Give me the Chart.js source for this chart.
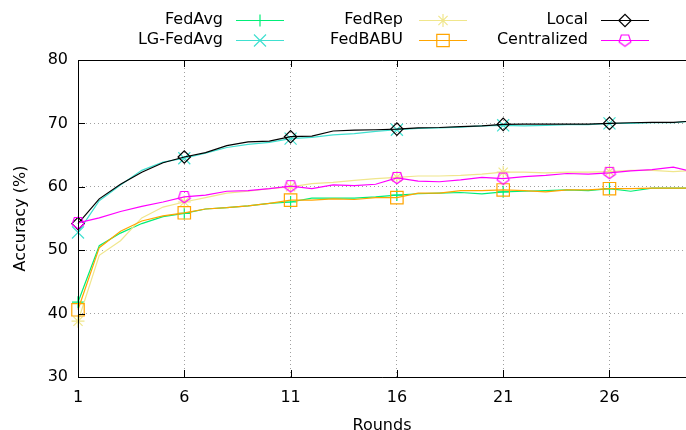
<!DOCTYPE html>
<html><head><meta charset="utf-8">
<script src="https://cdn.jsdelivr.net/npm/chart.js@4.4.1/dist/chart.umd.min.js"></script>
<style>html,body{margin:0;padding:0;background:#fff}#wrap{width:686px;height:430px;position:relative}</style>
</head><body><div id="wrap"><canvas id="c" width="686" height="430"></canvas></div>
<script>
const rounds = [1,2,3,4,5,6,7,8,9,10,11,12,13,14,15,16,17,18,19,20,21,22,23,24,25,26,27,28,29,30];
const xTicks = [1,6,11,16,21,26];
const yTicks = [30,40,50,60,70,80];
const seriesNames = ['FedAvg','LG-FedAvg','FedRep','FedBABU','Local','Centralized'];
const fedAvg      = [41.8,50.7,52.7,54.2,55.3,55.8,56.5,56.7,57.0,57.4,57.6,58.2,58.2,58.2,58.4,58.7,58.9,59.0,59.1,58.9,59.2,59.3,59.4,59.5,59.4,59.7,59.3,59.8,59.8,59.8];
const lgFedAvg    = [52.8,57.8,60.3,62.6,63.9,64.5,65.3,66.2,66.7,67.0,67.6,67.8,68.2,68.4,68.75,69.0,69.2,69.3,69.4,69.6,69.7,69.6,69.7,69.8,69.8,70.0,70.0,70.1,70.1,70.4];
const fedRep      = [38.8,49.2,51.5,55.1,56.8,57.6,58.3,59.0,59.3,59.7,60.0,60.5,60.7,61.0,61.3,61.5,61.7,61.7,61.8,62.0,62.3,62.3,62.2,62.3,62.3,62.4,62.6,62.6,62.4,62.6];
const fedBABU     = [40.6,50.4,53.0,54.6,55.4,55.9,56.5,56.7,57.0,57.4,57.9,57.9,58.1,58.0,58.3,58.3,59.0,59.0,59.4,59.4,59.5,59.4,59.2,59.5,59.5,59.7,59.7,59.8,59.8,59.8];
const local       = [54.2,58.1,60.4,62.3,63.8,64.7,65.4,66.5,67.1,67.2,67.9,68.0,68.8,68.95,69.0,69.1,69.3,69.35,69.5,69.6,69.85,69.9,69.9,69.9,69.9,70.0,70.1,70.15,70.15,70.4];
const centralized = [54.3,55.1,56.1,56.9,57.6,58.4,58.7,59.3,59.4,59.7,60.1,59.7,60.3,60.2,60.4,61.4,60.9,60.8,61.1,61.5,61.3,61.6,61.8,62.1,62.0,62.2,62.5,62.7,63.1,62.3];

const FONT = {family: 'DejaVu Sans', size: 16};

// open pentagon marker (point down)
function makePentagon(color) {
  const c = document.createElement('canvas');
  c.width = 16; c.height = 16;
  const g = c.getContext('2d');
  g.strokeStyle = color; g.lineWidth = 1.2;
  g.beginPath();
  const cx = 8, cy = 7.5, r = 6.2;
  for (let k = 0; k < 5; k++) {
    const a = Math.PI / 2 + k * 2 * Math.PI / 5;
    const px = cx + r * Math.cos(a), py = cy + r * Math.sin(a);
    if (k === 0) g.moveTo(px, py); else g.lineTo(px, py);
  }
  g.closePath(); g.stroke();
  return c;
}

const styles = [
  {color: '#00ee77', point: 'cross', radius: 6, order: 6},
  {color: '#40e0d0', point: 'crossRot', radius: 8.5, order: 5},
  {color: '#f0e68c', point: 'star', radius: 6.5, order: 4},
  {color: '#ffa500', point: 'rect', radius: 8.8, order: 3},
  {color: '#000000', point: 'rectRot', radius: 6.2, order: 2},
  {color: '#ff00ff', point: makePentagon('#ff00ff'), radius: 7, order: 1}
];
const values = [fedAvg, lgFedAvg, fedRep, fedBABU, local, centralized];

const datasets = values.map((vals, i) => ({
  label: seriesNames[i],
  data: vals.map((v, j) => ({x: rounds[j], y: v})),
  borderColor: styles[i].color,
  backgroundColor: 'rgba(0,0,0,0)',
  borderWidth: 1.2,
  pointStyle: styles[i].point,
  pointRadius: ctx => (ctx.dataIndex % 5 === 0 ? styles[i].radius : 0),
  pointBorderWidth: 1.2,
  pointBorderColor: styles[i].color,
  pointBackgroundColor: 'rgba(0,0,0,0)',
  pointHoverRadius: 0,
  tension: 0,
  clip: false,
  order: styles[i].order
}));

const gnuplotFrame = {
  id: 'gnuplotFrame',
  afterDatasetsDraw(chart) {
    const {ctx, chartArea: a, scales: {x, y}} = chart;
    ctx.save();
    ctx.strokeStyle = '#000'; ctx.lineWidth = 1;
    ctx.beginPath();
    ctx.moveTo(a.right + 20, a.top + 0.5); ctx.lineTo(a.left + 0.5, a.top + 0.5);
    ctx.lineTo(a.left + 0.5, a.bottom + 0.5); ctx.lineTo(a.right + 20, a.bottom + 0.5);
    const tl = 7;
    xTicks.forEach(v => {
      const px = Math.round(x.getPixelForValue(v)) + 0.5;
      ctx.moveTo(px, a.bottom); ctx.lineTo(px, a.bottom - tl);
      ctx.moveTo(px, a.top); ctx.lineTo(px, a.top + tl);
    });
    yTicks.forEach(v => {
      const py = Math.round(y.getPixelForValue(v)) + 0.5;
      ctx.moveTo(a.left, py); ctx.lineTo(a.left + tl, py);
    });
    ctx.stroke();

    // legend, gnuplot style: text then sample
    const textRight = [223, 403, 588];
    const lineStart = [236, 419, 601];
    const lineLen = 48;
    const rowY = [20, 40];
    ctx.font = FONT.size + 'px ' + FONT.family;
    ctx.textAlign = 'right'; ctx.textBaseline = 'middle';
    chart.data.datasets.forEach((ds, i) => {
      const col = Math.floor(i / 2), row = i % 2;
      const yy = rowY[row];
      ctx.fillStyle = '#000';
      ctx.fillText(ds.label, textRight[col], yy);
      ctx.strokeStyle = ds.borderColor; ctx.lineWidth = 1.2;
      ctx.beginPath();
      ctx.moveTo(lineStart[col], yy + 0.5); ctx.lineTo(lineStart[col] + lineLen, yy + 0.5);
      ctx.stroke();
      if (Chart.helpers && Chart.helpers.drawPoint) {
        ctx.strokeStyle = ds.borderColor; ctx.fillStyle = 'rgba(0,0,0,0)';
        ctx.lineWidth = 1.2;
        Chart.helpers.drawPoint(ctx, {pointStyle: ds.pointStyle, radius: styles[i].radius, rotation: 0, borderWidth: 1.2},
          lineStart[col] + lineLen / 2, yy + 0.5);
      }
    });
    ctx.restore();
  }
};

new Chart(document.getElementById('c'), {
  type: 'line',
  data: {datasets},
  options: {
    responsive: false,
    animation: false,
    devicePixelRatio: 1,
    layout: {autoPadding: false, padding: {top: 60, left: 0, right: 0, bottom: 0}},
    plugins: {legend: {display: false}, tooltip: {enabled: false}},
    scales: {
      x: {
        type: 'linear', min: 1, max: 29.6, bounds: 'data',
        afterBuildTicks: s => { s.ticks = xTicks.map(v => ({value: v})); },
        afterFit: s => { s.height = 53; s.paddingLeft = 0; s.paddingRight = 0; },
        ticks: {font: FONT, color: '#000', padding: 11, maxRotation: 0, autoSkip: false},
        grid: {color: '#a0a0a0', lineWidth: 1, drawTicks: false},
        border: {display: false, dash: [1, 3]},
        title: {display: true, text: 'Rounds', font: FONT, color: '#000', padding: {top: 0, bottom: -5}}
      },
      y: {
        type: 'linear', min: 30, max: 80,
        afterBuildTicks: s => { s.ticks = yTicks.map(v => ({value: v})); },
        afterFit: s => { s.width = 78; s.paddingTop = 0; s.paddingBottom = 0; },
        ticks: {font: FONT, color: '#000', padding: 10},
        grid: {color: '#a0a0a0', lineWidth: 1, drawTicks: false},
        border: {display: false, dash: [1, 3]},
        title: {display: true, text: 'Accuracy (%)', font: FONT, color: '#000', padding: {top: 11, bottom: 0}}
      }
    }
  },
  plugins: [gnuplotFrame]
});
</script></body></html>
